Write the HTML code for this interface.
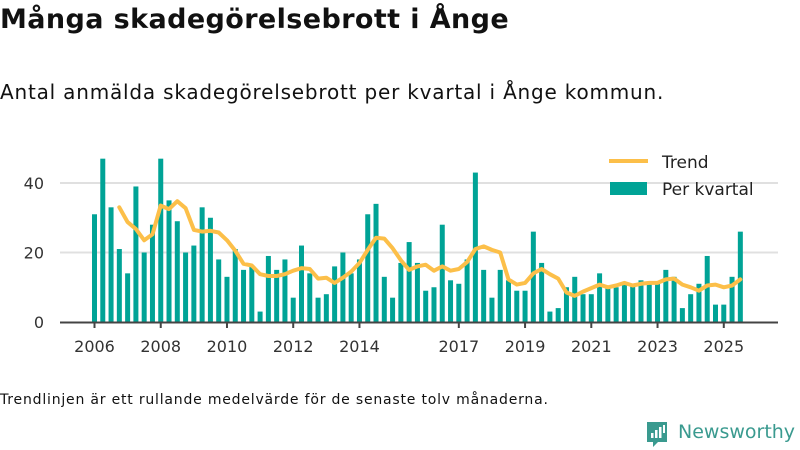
<!DOCTYPE html>
<html><head><meta charset="utf-8"><style>
body{margin:0;width:800px;height:450px;background:#fff;font-family:"DejaVu Sans","Liberation Sans",sans-serif;color:#111;position:relative;overflow:hidden}
.t{position:absolute;left:0;white-space:nowrap}
</style></head><body>
<div class="t" style="top:4px;font-size:27px;font-weight:bold;letter-spacing:0.4px">Många skadegörelsebrott i Ånge</div>
<div class="t" style="top:80px;font-size:20px;letter-spacing:0.8px">Antal anmälda skadegörelsebrott per kvartal i Ånge kommun.</div>
<svg width="800" height="450" style="position:absolute;left:0;top:0">
<g id="grid"></g><g id="bars"></g><g id="trend"></g><g id="axes"></g>
<g>
<line x1="609" y1="161" x2="648" y2="161" stroke="#fcbf49" stroke-width="4"/>
<text x="662" y="168" font-size="17" fill="#222" font-family="DejaVu Sans, sans-serif">Trend</text>
<rect x="610" y="182" width="37" height="13" fill="#00a396"/>
<text x="662" y="195" font-size="17" fill="#222" font-family="DejaVu Sans, sans-serif">Per kvartal</text>
</g>
</svg>
<div class="t" style="top:392px;font-size:14px;letter-spacing:0.8px">Trendlinjen är ett rullande medelvärde för de senaste tolv månaderna.</div>
<div style="position:absolute;left:645px;top:420px">
<svg width="26" height="28" style="position:absolute;left:0;top:0"><path d="M2 2h20v20h-9l-5 5v-5H2z" fill="#3a9a8f"/><rect x="6" y="13" width="2.5" height="5" fill="#fff"/><rect x="10" y="10" width="2.5" height="8" fill="#fff"/><rect x="14" y="7" width="2.5" height="11" fill="#fff"/><rect x="18" y="5" width="2" height="8" fill="#fff"/></svg>
<span style="position:absolute;left:33px;top:1px;font-size:19px;color:#3a9a8f;white-space:nowrap">Newsworthy</span>
</div>
<script>
const startYear = 2006;
const values = [31,47,33,21, 14,39,20,28, 47,35,29,20, 22,33,30,18, 13,21,15,16, 3,19,15,18, 7,22,14,7, 8,16,20,14, 18,31,34,13, 7,17,23,17, 9,10,28,12, 11,18,43,15, 7,15,12,9, 9,26,17,3, 4,10,13,8, 8,14,10,10, 11,11,12,11, 11,15,13,4, 8,11,19,5, 5,13,26];
const xTickYears = [2006,2008,2010,2012,2014,2017,2019,2021,2023,2025];
const yTicks = [0,20,40];
const NS="http://www.w3.org/2000/svg";
const x = i => 94.5 + i*8.28;
const y = v => 322 - v*3.475;
function mk(tag, attrs, parent){const e=document.createElementNS(NS,tag);for(const k in attrs)e.setAttribute(k,attrs[k]);document.getElementById(parent).appendChild(e);return e;}
yTicks.forEach(t=>{
  if(t>0){const g=mk('line',{x1:60,x2:778,y1:y(t),y2:y(t),stroke:'#e0e0e0','stroke-width':2},'grid');
  
  }
  const l=mk('text',{x:44,y:y(t)+6,'text-anchor':'end','font-size':16,fill:'#333','font-family':'DejaVu Sans, sans-serif'},'axes');
  l.textContent=t;
  
  
});
values.forEach((v,i)=>{
  const r=mk('rect',{x:x(i)-2.5,y:y(v),width:5,height:v*3.475,fill:'#00a396'},'bars');
  
  
});
let pts=[];
for(let i=3;i<values.length;i++){const m=(values[i]+values[i-1]+values[i-2]+values[i-3])/4;pts.push(x(i).toFixed(1)+','+y(m).toFixed(1));}
const p=mk('polyline',{points:pts.join(' '),fill:'none',stroke:'#fcbf49','stroke-width':4,'stroke-linejoin':'round','stroke-linecap':'round'},'trend');


const ax=mk('line',{x1:60,x2:778,y1:322.5,y2:322.5,stroke:'#444','stroke-width':2},'axes');


xTickYears.forEach(yr=>{
  const xi=x((yr-startYear)*4);
  const tk=mk('line',{x1:xi,x2:xi,y1:322,y2:328,stroke:'#444','stroke-width':2},'axes');
  
  
  const l=mk('text',{x:xi,y:352,'text-anchor':'middle','font-size':16,fill:'#333','font-family':'DejaVu Sans, sans-serif'},'axes');
  l.textContent=yr;
  
  
});
</script>
</body></html>
